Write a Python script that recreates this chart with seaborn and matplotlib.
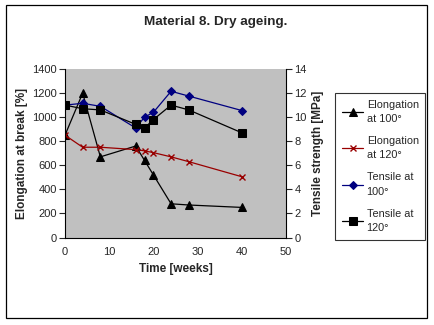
import matplotlib
matplotlib.use("Agg")
import matplotlib.pyplot as plt
import seaborn as sns
import pandas as pd
from matplotlib.patches import Rectangle

sns.set_style("white")
plt.rcParams["font.family"] = ["Liberation Sans", "DejaVu Sans"]

# Ageing times (weeks)
weeks = [0, 4, 8, 16, 18, 20, 24, 28, 40]

# Elongation at break [%]
elong_100 = [850, 1200, 670, 760, 640, 520, 280, 270, 250]
elong_120 = [850, 750, 750, 730, 720, 705, 670, 630, 505]

# Tensile strength [MPa]
tensile_100 = [11.0, 11.15, 10.9, 9.1, 10.0, 10.4, 12.15, 11.75, 10.55]
tensile_120 = [11.0, 10.7, 10.6, 9.4, 9.1, 9.8, 11.0, 10.6, 8.7]

labels = ["Elongation\nat 100°", "Elongation\nat 120°", "Tensile at\n100°", "Tensile at\n120°"]

df = pd.DataFrame({
    "weeks": weeks,
    "e100": elong_100,
    "e120": elong_120,
    "t100": tensile_100,
    "t120": tensile_120,
})

W, H = 434, 325
fig = plt.figure(figsize=(W / 100, H / 100), dpi=100)
fig.patch.set_facecolor("white")

# chart frame
fig.add_artist(Rectangle((6 / W, 1 - 318 / H), 421 / W, 313 / H, transform=fig.transFigure,
                         fill=False, edgecolor="black", linewidth=0.9))

left, right, top, bottom = 65, 286, 69, 237.5
ax = fig.add_axes([left / W, 1 - bottom / H, (right - left) / W, (bottom - top) / H])
ax.set_facecolor("#C0C0C0")
ax2 = ax.twinx()

lw = 0.9
sns.lineplot(data=df, x="weeks", y="e100", ax=ax, color="black", marker="^",
             markersize=6, markeredgecolor="black", linewidth=lw, label=labels[0], legend=False)
sns.lineplot(data=df, x="weeks", y="e120", ax=ax, color="#990000", marker="x",
             markersize=4.5, markeredgewidth=1.0, markeredgecolor="#990000",
             linewidth=lw, label=labels[1], legend=False)
sns.lineplot(data=df, x="weeks", y="t100", ax=ax2, color="#000080", marker="D",
             markersize=4.5, markeredgecolor="#000080", linewidth=lw, label=labels[2], legend=False)
sns.lineplot(data=df, x="weeks", y="t120", ax=ax2, color="black", marker="s",
             markersize=5.5, markeredgecolor="black", linewidth=lw, label=labels[3], legend=False)

ax.set_xlim(0, 50)
ax.set_ylim(0, 1400)
ax2.set_ylim(0, 14)
ax.set_xticks(range(0, 51, 10))
ax.set_yticks(range(0, 1401, 200))
ax2.set_yticks(range(0, 15, 2))

fs = 8
ax.tick_params(axis="x", direction="inout", length=6, width=0.8, labelsize=fs, pad=4)
ax.tick_params(axis="y", direction="out", length=4, width=0.8, labelsize=fs, pad=2,
               left=True)
ax2.tick_params(axis="y", direction="out", length=4, width=0.8, labelsize=fs, pad=2,
                right=True)

for a in (ax, ax2):
    for side in ("top", "right", "left", "bottom"):
        a.spines[side].set_visible(False)
ax.spines["left"].set_visible(True)
ax.spines["bottom"].set_visible(True)
ax2.spines["right"].set_visible(True)
for s in (ax.spines["left"], ax.spines["bottom"], ax2.spines["right"]):
    s.set_color("black")
    s.set_linewidth(0.8)

ax.set_xlabel("Time [weeks]", fontsize=8.5, fontweight="bold", labelpad=4)
ax.set_ylabel("Elongation at break [%]", fontsize=8.5, fontweight="bold", labelpad=3)
ax2.set_ylabel("Tensile strength [MPa]", fontsize=8.5, fontweight="bold", labelpad=4)

fig.text(216 / W, 1 - 22 / H, "Material 8. Dry ageing.", ha="center", va="center",
         fontsize=9.7, fontweight="bold")

h1, l1 = ax.get_legend_handles_labels()
h2, l2 = ax2.get_legend_handles_labels()
leg = fig.legend(h1 + h2, l1 + l2, loc="upper left",
                 bbox_to_anchor=(335 / W, 1 - 93 / H), bbox_transform=fig.transFigure,
                 frameon=True, fancybox=False, edgecolor="black", fontsize=7.8,
                 handlelength=2.0, handletextpad=0.3, labelspacing=1.1,
                 borderpad=0.62, borderaxespad=0)
for t in leg.get_texts():
    t.set_linespacing(1.55)
leg.get_frame().set_linewidth(0.8)

fig.savefig("out.png", dpi=100)
